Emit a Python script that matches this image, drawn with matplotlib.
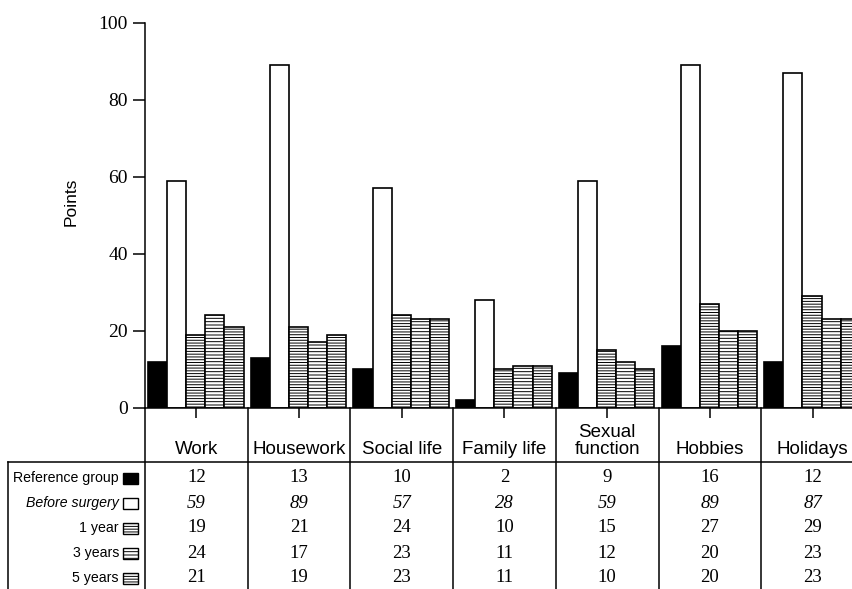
import numpy as np
import matplotlib.pyplot as plt
import matplotlib.transforms as mtransforms
from matplotlib.patches import Rectangle
from matplotlib.lines import Line2D

categories = ["Work", "Housework", "Social life", "Family life",
              "Sexual\nfunction", "Hobbies", "Holidays"]
series_names = ["Reference group", "Before surgery", "1 year", "3 years", "5 years"]
reference_group = [12, 13, 10, 2, 9, 16, 12]
before_surgery = [59, 89, 57, 28, 59, 89, 87]
one_year = [19, 21, 24, 10, 15, 27, 29]
three_years = [24, 17, 23, 11, 12, 20, 23]
five_years = [21, 19, 23, 11, 10, 20, 23]
y_ticks = [0, 20, 40, 60, 80, 100]

series = [reference_group, before_surgery, one_year, three_years, five_years]
# fill / hatch for each series
faces = ["black", "white", "white", "white", "white"]
hatches = [None, None, "------", "-----", "------"]

plt.rcParams['hatch.linewidth'] = 0.7
plt.rcParams['hatch.color'] = '#3a3a3a'
serif = "Liberation Serif"
sans = "Liberation Sans"

W, H = 853, 589
fig = plt.figure(figsize=(W / 100, H / 100), dpi=100)

# plot area in pixels: x 145..853, y 22..408
ax = fig.add_axes([145 / W, 1 - 408 / H, 1 - 145 / W, (408 - 22.5) / H])
group_px = 102.7
ax.set_xlim(0, (W - 145) / group_px)
ax.set_ylim(0, 100)

n = len(categories)
bar_w = 0.186
offset = 0.03
x = np.arange(n)
for k, vals in enumerate(series):
    ax.bar(x + offset + k * bar_w, vals, width=bar_w, align='edge',
           color=faces[k], edgecolor='black', linewidth=1.2,
           hatch=hatches[k], zorder=2)

for side in ["top", "right"]:
    ax.spines[side].set_visible(False)
ax.spines["left"].set_bounds(0, 100)
ax.spines["left"].set_linewidth(1.1)
ax.spines["bottom"].set_linewidth(1.1)
ax.spines["bottom"].set_zorder(3)

ax.set_yticks(y_ticks)
ax.set_yticklabels([str(v) for v in y_ticks], fontfamily=serif, fontsize=14)
ax.tick_params(axis='y', direction='out', length=8.5, width=1.1, pad=4)
ax.set_xticks(x + 0.5)
ax.set_xticklabels([])
ax.tick_params(axis='x', direction='out', length=7, width=1.1)
ax.set_ylabel("Points", fontfamily=sans, fontsize=12.5)
ax.yaxis.set_label_coords(-0.094, 0.535)

# table below the axis: x in data units, y in figure fraction
blend = mtransforms.blended_transform_factory(ax.transData, fig.transFigure)

def fy(px):
    return 1 - px / H

header_bottom = 462
for i in range(n + 1):
    fig.add_artist(Line2D([i, i], [fy(408), 0], transform=blend,
                          color='black', linewidth=1.1, clip_on=False))
fig.add_artist(Line2D([8 / W, 1], [fy(header_bottom), fy(header_bottom)],
                      transform=fig.transFigure, color='black', linewidth=1.1))
fig.add_artist(Line2D([8 / W, 8 / W], [fy(header_bottom), 0],
                      transform=fig.transFigure, color='black', linewidth=1.1))

for i, name in enumerate(categories):
    fig.text(i + 0.5, fy(458), name, transform=blend, ha='center', va='bottom',
             fontfamily=sans, fontsize=13.5, linespacing=1.0)

row0, row_step = 478, 25
for k, (name, vals) in enumerate(zip(series_names, series)):
    y = fy(row0 + k * row_step)
    style = 'italic' if k == 1 else 'normal'
    fig.text(119 / W, y, name, ha='right', va='center', fontfamily=sans,
             fontsize=10.2, style=style)
    sw = Rectangle((123 / W, fy(row0 + k * row_step + 5.5)), 15 / W, 11 / H,
                   transform=fig.transFigure, facecolor=faces[k],
                   edgecolor='black', linewidth=1.0, hatch=hatches[k])
    fig.add_artist(sw)
    for i, v in enumerate(vals):
        fig.text(i + 0.5, y, str(v), transform=blend, ha='center', va='center',
                 fontfamily=serif, fontsize=13.5, style=style)

fig.savefig("out.png", dpi=100)
